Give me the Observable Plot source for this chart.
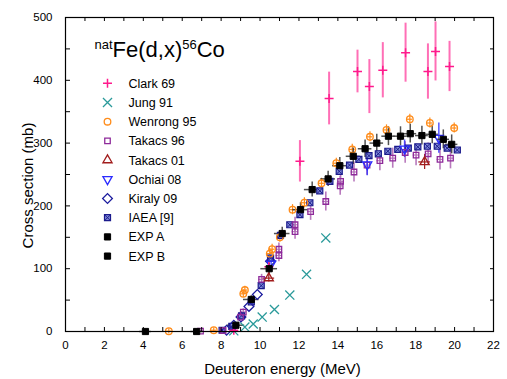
<!DOCTYPE html>
<html><head><meta charset="utf-8">
<script src="https://cdn.jsdelivr.net/npm/d3@7"></script>
<script src="https://cdn.jsdelivr.net/npm/@observablehq/plot@0.6"></script>
<style>
body{margin:0;background:#fff;}
#chart svg{font-family:"Liberation Sans", Arial, sans-serif;}
</style></head><body><div id="chart"></div>
<script>
// ---------- data ----------
const xTicks = [0, 2, 4, 6, 8, 10, 12, 14, 16, 18, 20, 22];
const yTicks = [0, 100, 200, 300, 400, 500];
const xMinor = [0,1,2,3,4,5,6,7,8,9,10,11,12,13,14,15,16,17,18,19,20,21,22];
const yMinor = [0,50,100,150,200,250,300,350,400,450,500];
const legendLabels = ["Clark 69","Jung 91","Wenrong 95","Takacs 96","Takacs 01","Ochiai 08","Kiraly 09","IAEA [9]","EXP A","EXP B"];
const titleText = "natFe(d,x)56Co";
const xLabel = "Deuteron energy (MeV)";
const yLabel = "Cross section (mb)";

// rows: [energy MeV, cross section mb, dE, dSigma]
const clark69 = [[8.65,2,0,2],[10.45,103,0,7],[12.05,271,0,33],[13.55,371,0,42],[15.01,414,0,34],[15.62,390,0,43],[16.31,416,0,44],[17.48,444,0,47],[18.63,414,0,44],[19.02,446,0,47],[19.74,422,0,40]];
const jung91 = [[8.65,1],[9.22,7],[9.65,12],[10.11,23],[10.74,35],[11.53,58],[12.39,91],[13.38,149]];
const wenrong95 = [[5.31,0.5,0.15,4],[7.62,2,0.15,4],[9.14,60,0.15,6],[9.22,66,0.15,6],[10.5,124,0.15,8],[10.62,131,0.15,8],[11.02,150,0.15,8],[11.67,194,0.15,8],[12.28,205,0.15,8],[13.16,236,0.15,8],[13.92,268,0.15,8],[14.74,290,0.15,8],[15.65,310,0.15,8],[16.5,321,0.15,8],[17.7,338,0.15,8],[18.73,332,0.15,8],[19.98,324,0.15,8]];
const takacs96 = [[6.94,0.5,0.15,2],[8.1,1.6,0.15,2],[9.0,23,0.15,4],[9.14,31,0.15,5],[10.08,83,0.15,8],[10.97,121,0.15,10],[10.97,131,0.15,10],[11.8,159,0.15,12],[11.8,170,0.15,12],[12.6,191,0.15,14],[13.38,207,0.15,15],[14.12,232,0.15,15],[14.14,239,0.15,15],[14.83,254,0.15,16],[15.5,265,0.15,16],[16.16,272,0.15,16],[16.82,276,0.15,16],[17.46,285,0.15,17],[18.02,281,0.15,17],[18.64,283,0.15,17],[19.25,274,0.15,17],[19.79,276,0.15,17]];
const takacs01 = [[10.45,85,0.3,6],[18.46,270,0.3,12]];
const ochiai08 = [[10.57,108,0,8],[15.51,266,0,18],[17.43,291,0,14],[19.19,308,0,24]];
const kiraly09 = [[8.28,2],[8.65,10],[9.02,23],[9.43,40],[9.86,59],[10.54,112]];
const iaea9 = [[8.05,2],[8.55,8],[9.05,25],[9.55,47],[10.06,73],[10.54,117],[11.05,153],[11.53,170],[12.05,186],[12.56,205],[13.07,224],[13.59,239],[14.07,255],[14.6,265],[15.08,274],[15.6,280],[16.08,283],[16.57,287],[17.08,290],[17.62,292],[18.11,294],[18.6,295],[19.11,295],[19.62,292],[20.14,289]];
const expA = [[4.11,0,0.3,2],[6.74,0,0.3,2],[8.76,10,0.45,4],[9.55,51,0.4,6],[10.47,100,0.43,9],[11.14,156,0.4,10],[12.08,194,0.4,11],[12.68,226,0.4,12],[13.5,243,0.38,12],[14.1,264,0.37,13]];
const expB = [[14.79,279,0.36,13],[15.4,291,0.35,14],[16.0,300,0.35,14],[16.6,311,0.34,15],[17.22,311,0.34,15],[17.72,315,0.33,15],[18.32,312,0.33,15],[18.85,314,0.32,15],[19.42,306,0.32,15],[19.85,298,0.32,15]];

// ---------- styles ----------
const C = {
  clark: "#ff1a8c", clarkBar: "#ff5fae",
  jung: "#2a9a9a", wenrong: "#ff8c1a",
  tak96: "#8e2a9a", tak96Bar: "#b06ab6",
  tak01: "#a11c1c", ochiai: "#2b2bff",
  kiraly: "#1c1c9e", iaea: "#1a1a8c", iaeaFill: "#7f89d6", exp: "#000"
};
const X = d => d[0], Y = d => d[1];
const vbar = (data, stroke, w = 1.5, op = 1) => Plot.ruleX(data.filter(d => d[3] > 0), {x: X, y1: d => d[1] - d[3], y2: d => d[1] + d[3], stroke, strokeWidth: w, strokeOpacity: op});
const hbar = (data, stroke, w = 1.5, op = 1) => Plot.ruleY(data.filter(d => d[2] > 0), {y: Y, x1: d => d[0] - d[2], x2: d => d[0] + d[2], stroke, strokeWidth: w, strokeOpacity: op});

const series = [
  {sym: "plus", r: 3, stroke: C.clark, fill: "none", sw: 1.5},
  {sym: "times", r: 4.2, stroke: C.jung, fill: "none", sw: 1.3},
  {sym: "circle", r: 3.3, stroke: C.wenrong, fill: "none", sw: 1.3},
  {sym: "square", r: 3.1, stroke: C.tak96, fill: "none", sw: 1.3},
  {sym: "triangle", r: 3.4, stroke: C.tak01, fill: "none", sw: 1.3},
  {sym: "triangle", r: 3.4, stroke: C.ochiai, fill: "none", sw: 1.3, rotate: 180},
  {sym: "square", r: 3.9, stroke: C.kiraly, fill: "none", sw: 1.3, rotate: 45},
  {sym: "square", r: 3.4, stroke: C.iaea, fill: C.iaeaFill, sw: 1.2, iaea: true},
  {sym: "square", r: 3.5, stroke: C.exp, fill: C.exp, sw: 1},
  {sym: "square", r: 3.5, stroke: C.exp, fill: C.exp, sw: 1}
];
const dots = (data, s) => {
  const m = [Plot.dot(data, {x: X, y: Y, symbol: s.sym, r: s.r, stroke: s.stroke, fill: s.fill, strokeWidth: s.sw, rotate: s.rotate || 0})];
  if (s.iaea) m.push(Plot.dot(data, {x: X, y: Y, symbol: "times", r: 2.5, stroke: s.stroke, strokeWidth: 1}));
  return m;
};
const legendMarks = [];
legendLabels.forEach((lab, i) => {
  const s = series[i];
  const dy = 65.8 + i * 19.2;
  legendMarks.push(Plot.dot([lab], {frameAnchor: "top-left", dx: 42, dy, symbol: s.sym, r: s.r, stroke: s.stroke, fill: s.fill, strokeWidth: s.sw, rotate: s.rotate || 0}));
  if (s.iaea) legendMarks.push(Plot.dot([lab], {frameAnchor: "top-left", dx: 42, dy, symbol: "times", r: 2.5, stroke: s.stroke, strokeWidth: 1}));
  legendMarks.push(Plot.text([lab], {frameAnchor: "top-left", dx: 63, dy: dy + 0.5, text: d => d, textAnchor: "start", lineAnchor: "middle", fontSize: 12.5, fill: "#000"}));
});

const chart = Plot.plot({
  width: 507, height: 379,
  marginLeft: 65, marginRight: 14, marginTop: 17, marginBottom: 48,
  style: {fontFamily: "Liberation Sans, Arial, sans-serif", background: "#fff", color: "#000"},
  x: {domain: [0, 22]},
  y: {domain: [0, 500]},
  marks: [
    // error bars
    vbar(clark69, C.clarkBar, 2, 0.9),
    vbar(takacs96, C.tak96Bar, 1.6, 0.9), hbar(takacs96, C.tak96Bar, 1.2, 0.9),
    vbar(ochiai08, C.ochiai, 1.5, 0.8),
    vbar(takacs01, C.tak01, 1.2), hbar(takacs01, C.tak01, 1.2),
    vbar(wenrong95, C.wenrong, 1.2), hbar(wenrong95, C.wenrong, 1.2),
    vbar(expA, "#333", 1.5, 0.85), hbar(expA, "#333", 1.5, 0.85),
    vbar(expB, "#333", 1.5, 0.85), hbar(expB, "#333", 1.5, 0.85),
    // markers
    ...dots(jung91, series[1]),
    ...dots(iaea9, series[7]),
    ...dots(kiraly09, series[6]),
    ...dots(takacs96, series[3]),
    ...dots(takacs01, series[4]),
    ...dots(ochiai08, series[5]),
    ...dots(wenrong95, series[2]),
    ...dots(clark69, series[0]),
    ...dots(expA, series[8]),
    ...dots(expB, series[9]),
    // frame + inward ticks
    Plot.frame({stroke: "#000", strokeWidth: 1.2}),
    Plot.axisX({ticks: xMinor, anchor: "bottom", tickSize: 4, dy: -4, tickFormat: () => "", label: null}),
    Plot.axisX({ticks: xMinor, anchor: "top", tickSize: 3, dy: 3, tickFormat: () => "", label: null}),
    Plot.axisY({ticks: yMinor, anchor: "left", tickSize: 5, dx: 5, tickFormat: () => "", label: null}),
    Plot.axisY({ticks: yMinor, anchor: "right", tickSize: 4, dx: -4, tickFormat: () => "", label: null}),
    // tick labels
    Plot.axisX({ticks: xTicks, anchor: "bottom", tickSize: 0, tickPadding: 9, fontSize: 11.5, label: null}),
    Plot.axisY({ticks: yTicks, anchor: "left", tickSize: 0, tickPadding: 13, fontSize: 11.5, label: null}),
    // axis titles
    Plot.text([xLabel], {frameAnchor: "bottom", dx: 3, dy: 38, text: d => d, fontSize: 15, textAnchor: "middle", lineAnchor: "middle"}),
    Plot.text([yLabel], {frameAnchor: "left", dx: -37.5, dy: 11, rotate: -90, text: d => d, fontSize: 15, textAnchor: "middle", lineAnchor: "middle"}),
    // title
    Plot.text([titleText], {frameAnchor: "top-left", dx: 29, dy: 39, text: d => d, textAnchor: "start", lineAnchor: "bottom", fontSize: 22}),
    ...legendMarks
  ]
});
document.getElementById("chart").appendChild(chart);

// superscripts in the title
chart.querySelectorAll("text").forEach(t => {
  if (t.textContent === titleText) {
    t.textContent = "";
    const parts = [["nat", 13, -8], ["Fe(d,x)", 22, 8], ["56", 13, -8], ["Co", 22, 8]];
    parts.forEach(([s, fs, dy]) => {
      const ts = document.createElementNS("http://www.w3.org/2000/svg", "tspan");
      ts.setAttribute("font-size", fs);
      ts.setAttribute("dy", dy);
      ts.textContent = s;
      t.appendChild(ts);
    });
  }
});
</script></body></html>
